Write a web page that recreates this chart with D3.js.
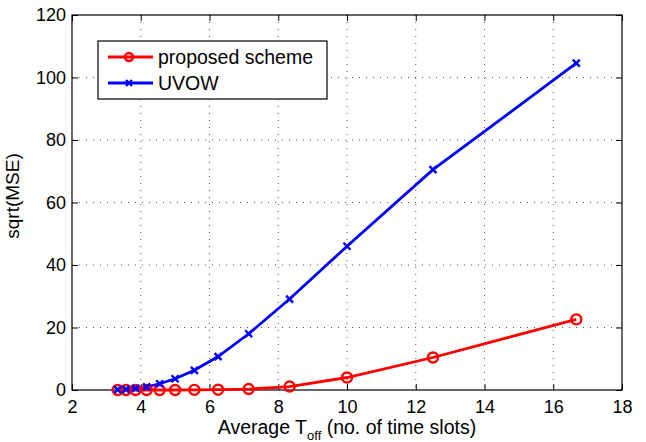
<!DOCTYPE html>
<html>
<head>
<meta charset="utf-8">
<script src="https://cdn.jsdelivr.net/npm/d3@7"></script>
<style>
  body { margin: 0; background: #fff; }
  text { font-family: "Liberation Sans", Arial, Helvetica, sans-serif; fill: #000; }
</style>
</head>
<body>
<div id="chart"></div>
<script>
// average T_off values (x) shared by both series
const toff = [3.33, 3.57, 3.85, 4.17, 4.55, 5.0, 5.56, 6.25, 7.14, 8.33, 10.0, 12.5, 16.67];
// sqrt(MSE) per series
const proposed = [0, 0, 0, 0, 0, 0, 0.05, 0.1, 0.3, 1.1, 4.0, 10.4, 22.6];
const uvow = [0.1, 0.2, 0.5, 1.0, 2.0, 3.6, 6.3, 10.7, 18.0, 29.1, 46.0, 70.5, 104.6];
const seriesNames = ['proposed scheme', 'UVOW'];
const xTicks = [2, 4, 6, 8, 10, 12, 14, 16, 18];
const yTicks = [0, 20, 40, 60, 80, 100, 120];

const W = 646, H = 442;
const margin = {top: 15, right: 24, bottom: 52, left: 72};
const width = W - margin.left - margin.right;
const height = H - margin.top - margin.bottom;

const svg = d3.select('#chart').append('svg')
  .attr('width', W)
  .attr('height', H);

const g = svg.append('g')
  .attr('transform', `translate(${margin.left}, ${margin.top})`);

const x = d3.scaleLinear().domain([2, 18]).range([0, width]);
const y = d3.scaleLinear().domain([0, 120]).range([height, 0]);

// dotted grid
const grid = g.append('g')
  .attr('stroke', '#555')
  .attr('stroke-width', 1)
  .attr('stroke-dasharray', '1,6');
grid.selectAll('.gx')
  .data(xTicks.slice(1, -1))
  .enter().append('line')
  .attr('x1', d => x(d)).attr('x2', d => x(d))
  .attr('y1', 0).attr('y2', height);
grid.selectAll('.gy')
  .data(yTicks.slice(1, -1))
  .enter().append('line')
  .attr('x1', 0).attr('x2', width)
  .attr('y1', d => y(d)).attr('y2', d => y(d));

// axes, ticks inside like matlab
function styleAxis(sel) {
  sel.select('.domain').remove();
  sel.selectAll('.tick line').attr('stroke', '#000');
  sel.selectAll('.tick text')
    .style('font-size', '18px')
    .style('font-family', '"Liberation Sans", Arial, sans-serif');
}

g.append('g')
  .attr('transform', `translate(0, ${height})`)
  .call(d3.axisBottom(x).tickValues(xTicks).tickSize(-6).tickPadding(10))
  .call(styleAxis);
g.append('g')
  .call(d3.axisLeft(y).tickValues(yTicks).tickSize(-6).tickPadding(6))
  .call(styleAxis);
g.append('g')
  .call(d3.axisTop(x).tickValues(xTicks).tickSize(-6).tickFormat(''))
  .call(styleAxis);
g.append('g')
  .attr('transform', `translate(${width}, 0)`)
  .call(d3.axisRight(y).tickValues(yTicks).tickSize(-6).tickFormat(''))
  .call(styleAxis);

g.append('rect')
  .attr('width', width).attr('height', height)
  .attr('fill', 'none').attr('stroke', '#000').attr('stroke-width', 1.2);

// lines
const line = d3.line()
  .x(d => x(d[0]))
  .y(d => y(d[1]));

const redData = toff.map((t, i) => [t, proposed[i]]);
const blueData = toff.map((t, i) => [t, uvow[i]]);

g.append('path')
  .datum(redData)
  .attr('d', line)
  .attr('fill', 'none').attr('stroke', '#ff0000').attr('stroke-width', 2.8);
g.append('path')
  .datum(blueData)
  .attr('d', line)
  .attr('fill', 'none').attr('stroke', '#0000ff').attr('stroke-width', 2.8);

function xMark(sel, s) {
  sel.append('path')
    .attr('d', `M${-s},${-s}L${s},${s}M${-s},${s}L${s},${-s}`)
    .attr('stroke', '#0000ff').attr('stroke-width', 2.4).attr('fill', 'none');
}

g.selectAll('.pr')
  .data(redData)
  .enter().append('circle')
  .attr('cx', d => x(d[0])).attr('cy', d => y(d[1]))
  .attr('r', 5)
  .attr('fill', 'none').attr('stroke', '#ff0000').attr('stroke-width', 2.4);

g.selectAll('.uv')
  .data(blueData)
  .enter().append('g')
  .attr('transform', d => `translate(${x(d[0])}, ${y(d[1])})`)
  .each(function() { xMark(d3.select(this), 3.5); });

// axis labels
const xl = svg.append('text')
  .attr('x', margin.left + width / 2)
  .attr('y', 434)
  .attr('text-anchor', 'middle')
  .style('font-size', '19.5px');
xl.append('tspan').text('Average T');
xl.append('tspan').attr('dy', 6).style('font-size', '13px').text('off');
xl.append('tspan').attr('dy', -6).text(' (no. of time slots)');

svg.append('text')
  .attr('transform', `translate(19, 196) rotate(-90)`)
  .attr('text-anchor', 'middle')
  .style('font-size', '19px')
  .text('sqrt(MSE)');

// legend
const lg = svg.append('g').attr('transform', 'translate(98, 41)');
lg.append('rect')
  .attr('width', 229).attr('height', 58)
  .attr('fill', '#fff').attr('stroke', '#000').attr('stroke-width', 1.2);

const rows = lg.selectAll('.row')
  .data(seriesNames)
  .enter().append('g')
  .attr('transform', (d, i) => `translate(0, ${16 + i * 26})`);
rows.append('line')
  .attr('x1', 10).attr('x2', 55)
  .attr('stroke', (d, i) => i === 0 ? '#ff0000' : '#0000ff')
  .attr('stroke-width', 2.8);
rows.filter((d, i) => i === 0).append('circle')
  .attr('cx', 31).attr('r', 4)
  .attr('fill', 'none').attr('stroke', '#ff0000').attr('stroke-width', 2.4);
rows.filter((d, i) => i === 1).append('g')
  .attr('transform', 'translate(31, 0)')
  .each(function() { xMark(d3.select(this), 3); });
rows.append('text')
  .attr('x', 60).attr('y', 7)
  .style('font-size', '19.5px')
  .text(d => d);
</script>
</body>
</html>
